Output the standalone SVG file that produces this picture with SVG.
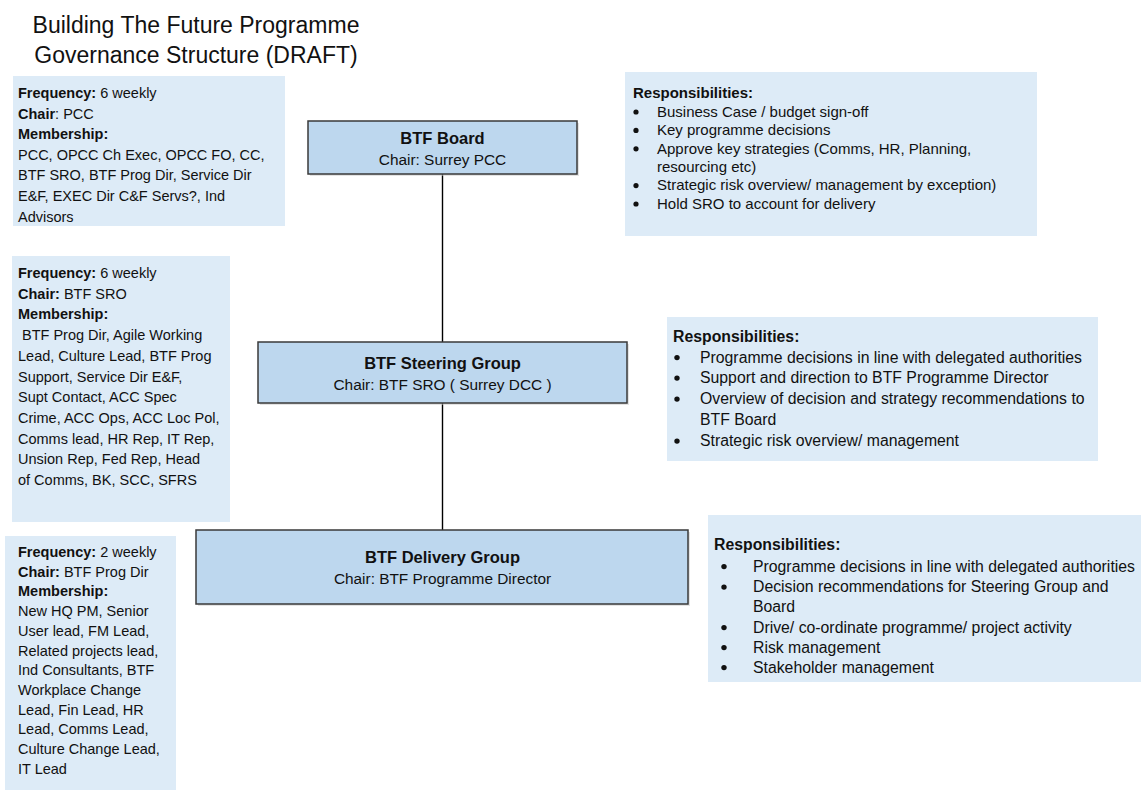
<svg xmlns="http://www.w3.org/2000/svg" width="1147" height="796" viewBox="0 0 1147 796">
<style>
text{font-family:"Liberation Sans",Arial,sans-serif;fill:#111}
.title{font-size:23px;text-anchor:middle}
.info{fill:#DDEBF7}
.node{fill:#BDD7EE;stroke:#3a3a3a;stroke-width:1.5}
.shadow{fill:#c8c8c8;opacity:0.5}
.nt{font-size:16.5px;font-weight:bold;text-anchor:middle}
.nc{font-size:15.4px;text-anchor:middle}
.l{font-size:14.5px}
.r1{font-size:15px}
.r2{font-size:15.8px}
b,.b{font-weight:bold}
.conn{stroke:#000;stroke-width:1.4;fill:none}
.dot{fill:#111}
</style>
<g id="title">
<text class="title" x="196" y="33">Building The Future Programme</text>
<text class="title" x="196" y="63">Governance Structure (DRAFT)</text>
</g>
<g id="connectors">
<line class="conn" x1="442.5" y1="174" x2="442.5" y2="342"/>
<line class="conn" x1="442.5" y1="403" x2="442.5" y2="530"/>
</g>
<g id="board">
<rect class="shadow" x="310" y="123" width="269" height="53"/>
<rect class="node" x="308" y="121" width="269" height="53"/>
<text class="nt" x="442.5" y="144">BTF Board</text>
<text class="nc" x="442.5" y="165">Chair: Surrey PCC</text>
</g>
<g id="steering">
<rect class="shadow" x="260" y="344" width="369" height="61"/>
<rect class="node" x="258" y="342" width="369" height="61"/>
<text class="nt" x="442.5" y="369">BTF Steering Group</text>
<text class="nc" x="442.5" y="390">Chair: BTF SRO ( Surrey DCC )</text>
</g>
<g id="delivery">
<rect class="shadow" x="198" y="532" width="492" height="74"/>
<rect class="node" x="196" y="530" width="492" height="74"/>
<text class="nt" x="442.5" y="563">BTF Delivery Group</text>
<text class="nc" x="442.5" y="584">Chair: BTF Programme Director</text>
</g>
<g id="board-info">
<rect class="info" x="13" y="76" width="272" height="150"/>
<text class="l" x="18" y="98"><tspan class="b">Frequency:</tspan> 6 weekly</text>
<text class="l" x="18" y="118.6"><tspan class="b">Chair</tspan>: PCC</text>
<text class="l b" x="18" y="139.2">Membership:</text>
<text class="l" x="18" y="159.8">PCC, OPCC Ch Exec, OPCC FO, CC,</text>
<text class="l" x="18" y="180.4">BTF SRO, BTF Prog Dir, Service Dir</text>
<text class="l" x="18" y="201">E&amp;F, EXEC Dir C&amp;F Servs?, Ind</text>
<text class="l" x="18" y="221.6">Advisors</text>
</g>
<g id="steering-info">
<rect class="info" x="12" y="256" width="218" height="266"/>
<text class="l" x="18" y="278"><tspan class="b">Frequency:</tspan> 6 weekly</text>
<text class="l" x="18" y="298.7"><tspan class="b">Chair:</tspan> BTF SRO</text>
<text class="l b" x="18" y="319.4">Membership:</text>
<text class="l" x="22" y="340.1">BTF Prog Dir, Agile Working</text>
<text class="l" x="18" y="360.8">Lead, Culture Lead, BTF Prog</text>
<text class="l" x="18" y="381.5">Support, Service Dir E&amp;F,</text>
<text class="l" x="18" y="402.2">Supt Contact, ACC Spec</text>
<text class="l" x="18" y="422.9">Crime, ACC Ops, ACC Loc Pol,</text>
<text class="l" x="18" y="443.6">Comms lead, HR Rep, IT Rep,</text>
<text class="l" x="18" y="464.3">Unsion Rep, Fed Rep, Head</text>
<text class="l" x="18" y="485">of Comms, BK, SCC, SFRS</text>
</g>
<g id="delivery-info">
<rect class="info" x="5" y="536" width="171" height="254"/>
<text class="l" x="18" y="557"><tspan class="b">Frequency:</tspan> 2 weekly</text>
<text class="l" x="18" y="576.7"><tspan class="b">Chair:</tspan> BTF Prog Dir</text>
<text class="l b" x="18" y="596.4">Membership:</text>
<text class="l" x="18" y="616.1">New HQ PM, Senior</text>
<text class="l" x="18" y="635.8">User lead, FM Lead,</text>
<text class="l" x="18" y="655.5">Related projects lead,</text>
<text class="l" x="18" y="675.2">Ind Consultants, BTF</text>
<text class="l" x="18" y="694.9">Workplace Change</text>
<text class="l" x="18" y="714.6">Lead, Fin Lead, HR</text>
<text class="l" x="18" y="734.3">Lead, Comms Lead,</text>
<text class="l" x="18" y="754">Culture Change Lead,</text>
<text class="l" x="18" y="773.7">IT Lead</text>
</g>
<g id="board-resp">
<rect class="info" x="625" y="72" width="412" height="164"/>
<text class="r1 b" x="633" y="98.3">Responsibilities:</text>
<circle class="dot" cx="636" cy="112" r="2.6"/>
<text class="r1" x="657" y="116.7">Business Case / budget sign-off</text>
<circle class="dot" cx="636" cy="130.4" r="2.6"/>
<text class="r1" x="657" y="135.1">Key programme decisions</text>
<circle class="dot" cx="636" cy="148.8" r="2.6"/>
<text class="r1" x="657" y="153.5">Approve key strategies (Comms, HR, Planning,</text>
<text class="r1" x="657" y="171.9">resourcing etc)</text>
<circle class="dot" cx="636" cy="185.6" r="2.6"/>
<text class="r1" x="657" y="190.3">Strategic risk overview/ management by exception)</text>
<circle class="dot" cx="636" cy="204" r="2.6"/>
<text class="r1" x="657" y="208.7">Hold SRO to account for delivery</text>
</g>
<g id="steering-resp">
<rect class="info" x="667" y="317" width="431" height="144"/>
<text class="r2 b" x="673" y="342">Responsibilities:</text>
<circle class="dot" cx="677" cy="357.6" r="2.7"/>
<text class="r2" x="700" y="362.5">Programme decisions in line with delegated authorities</text>
<circle class="dot" cx="677" cy="378.1" r="2.7"/>
<text class="r2" x="700" y="383">Support and direction to BTF Programme Director</text>
<circle class="dot" cx="677" cy="399.1" r="2.7"/>
<text class="r2" x="700" y="404">Overview of decision and strategy recommendations to</text>
<text class="r2" x="700" y="425">BTF Board</text>
<circle class="dot" cx="677" cy="441.1" r="2.7"/>
<text class="r2" x="700" y="446">Strategic risk overview/ management</text>
</g>
<g id="delivery-resp">
<rect class="info" x="708" y="515" width="433" height="167"/>
<text class="r2 b" x="714" y="550">Responsibilities:</text>
<circle class="dot" cx="724" cy="566.6" r="2.7"/>
<text class="r2" x="753" y="571.5">Programme decisions in line with delegated authorities</text>
<circle class="dot" cx="724" cy="587.1" r="2.7"/>
<text class="r2" x="753" y="592">Decision recommendations for Steering Group and</text>
<text class="r2" x="753" y="612">Board</text>
<circle class="dot" cx="724" cy="627.6" r="2.7"/>
<text class="r2" x="753" y="632.5">Drive/ co-ordinate programme/ project activity</text>
<circle class="dot" cx="724" cy="647.6" r="2.7"/>
<text class="r2" x="753" y="652.5">Risk management</text>
<circle class="dot" cx="724" cy="667.6" r="2.7"/>
<text class="r2" x="753" y="672.5">Stakeholder management</text>
</g>
</svg>
